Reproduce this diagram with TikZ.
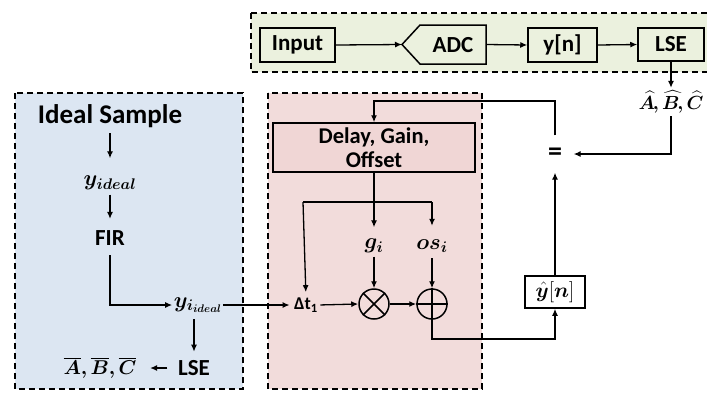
\documentclass[tikz,border=0pt]{standalone}
\usepackage{fix-cm}
\usepackage{fontspec}
\setmainfont{Carlito}
\usepackage{amsmath}
\usepackage{bm}
\usetikzlibrary{arrows.meta}
\definecolor{greenbg}{RGB}{235,241,222}
\definecolor{bluebg}{RGB}{220,230,242}
\definecolor{pinkbg}{RGB}{242,220,219}
\definecolor{pinkbox}{RGB}{240,214,213}
\begin{document}
\begin{tikzpicture}[x=1pt,y=-1pt,
  line width=1.3pt,
  arr/.style={-{Latex[length=7pt,width=6pt]}},
  boxa/.style={draw, line width=1.5pt, font=\fontsize{23}{26}\selectfont\bfseries, inner sep=0pt},
  lbl/.style={font=\fontsize{23}{26}\selectfont\bfseries, inner sep=0pt},
  mlbl/.style={font=\fontsize{22}{25}\selectfont, inner sep=0pt},
  region/.style={draw, dash pattern=on 6pt off 4pt, line width=1.5pt},
  sumc/.style={draw, circle, minimum size=30pt, inner sep=0pt, line width=1.5pt}]
\useasboundingbox (0,0) rectangle (707,392);
\clip (0,0) rectangle (707,392);
% regions
\path[region, fill=greenbg] (251,13) rectangle (720,72);
\path[region, fill=bluebg] (15,93) rectangle (243,389);
\path[region, fill=pinkbg] (268,93) rectangle (482,389);

% top chain
\node[boxa, minimum width=75pt, minimum height=34pt] (input) at (297.5,45) {Input};
\draw[line width=1.5pt, fill=greenbg] (402,44.5) -- (420,25) -- (486,25) -- (486,64) -- (420,64) -- cycle;
\coordinate (adcin) at (402,44.5);
\coordinate (adcout) at (486,44.5);
\node[lbl] (adc) at (453,45) {ADC};
\node[boxa, minimum width=69pt, minimum height=34pt] (yn) at (562.5,45) {y[n]};
\node[boxa, minimum width=66pt, minimum height=33pt] (lse1) at (671,44.5) {LSE};
\draw[arr] (input.east) -- (adcin);
\draw[arr] (adcout) -- (yn.west);
\draw[arr] (yn.east) -- (lse1.west);

\node[mlbl, minimum height=27pt, font=\fontsize{19}{22}\selectfont] (abchat) at (671,102) {$\bm{\widehat{A}\mkern-2mu,\widehat{B}\mkern-2mu,\widehat{C}}$};
\draw[arr] (lse1.south) -- (abchat.north);
\node[lbl, minimum size=36pt, font=\fontsize{28}{30}\selectfont\bfseries] (eq) at (555,154) {=};
\draw[arr] (abchat.south) |- (eq.east);

% pink region
\node[boxa, fill=pinkbox, minimum width=202pt, minimum height=49pt, align=center,
      font=\fontsize{22.5}{24}\selectfont\bfseries] (delay) at (374,147.5) {Delay, Gain,\\Offset};
\coordinate (fb) at (374,101);
\draw[arr] (eq.north) |- (fb) -- (delay.north);

\coordinate (brL) at (303,202);
\coordinate (brR) at (432,202);
\node[mlbl] (gi) at (374,246) {$\bm{g_i}$};
\node[mlbl] (osi) at (432,246) {$\bm{os_i}$};
\node[lbl, font=\fontsize{18}{20}\selectfont\bfseries] (dt) at (306,305) {Δt\textsubscript{1}};
\node[sumc] (mult) at (374,304) {};
\node[sumc] (add) at (432,304) {};
\draw[line width=1.5pt] (mult.north west) -- (mult.south east) (mult.north east) -- (mult.south west);
\draw[line width=1.5pt] (add.north) -- (add.south) (add.west) -- (add.east);

\draw[arr, shorten >=11pt] (delay.south) -- (gi.north);
\draw (brL) -- (brR);
\draw[arr, shorten >=5pt] (brL) -- (dt.north);
\draw[arr, shorten >=13pt] (brR) -- (osi.north);
\draw[arr, shorten <=3pt] (gi.south) -- (mult.north);
\draw[arr, shorten <=5pt] (osi.south) -- (add.north);
\draw[arr, shorten <=2pt] (dt.east) -- (mult.west);
\draw[arr] (mult.east) -- (add.west);

\node[boxa, fill=white, minimum width=60pt, minimum height=32pt,
      font=\fontsize{21}{24}\selectfont] (yhat) at (555,292) {$\bm{\hat{y}}[\bm{n}]$};
\coordinate (ret) at (555,339);
\draw[arr] (add.south) |- (ret) -- (yhat.south);
\draw[arr] (yhat.north) -- (eq.south);

% blue region
\node[lbl, font=\fontsize{27}{30}\selectfont\bfseries] (ideal) at (110,116) {Ideal Sample};
\node[mlbl] (yideal) at (110,183) {$\bm{y_{ideal}}$};
\node[lbl] (fir) at (110,238) {FIR};
\node[mlbl] (yiideal) at (198,305) {$\bm{y_{i_{ideal}}}$};
\node[lbl] (lse2) at (194,368) {LSE};
\node[mlbl, font=\fontsize{20}{23}\selectfont] (abcbar) at (100,368) {$\bm{\overline{A},\overline{B},\overline{C}}$};

\draw[arr, shorten <=5pt, shorten >=17pt] (ideal.south) -- (yideal.north);
\draw[arr, shorten <=4pt, shorten >=11pt] (yideal.south) -- (fir.north);
\draw[arr, shorten <=9pt, shorten >=1pt] (fir.south) |- (yiideal.west);
\draw[arr, shorten >=4pt] (yiideal.east) -- (dt.west);
\draw[arr, shorten <=6pt, shorten >=8pt] (yiideal.south -| lse2.north) -- (lse2.north);
\draw[arr, shorten <=10pt, shorten >=13pt] (lse2.west) -- (abcbar.east);
\end{tikzpicture}
\end{document}
